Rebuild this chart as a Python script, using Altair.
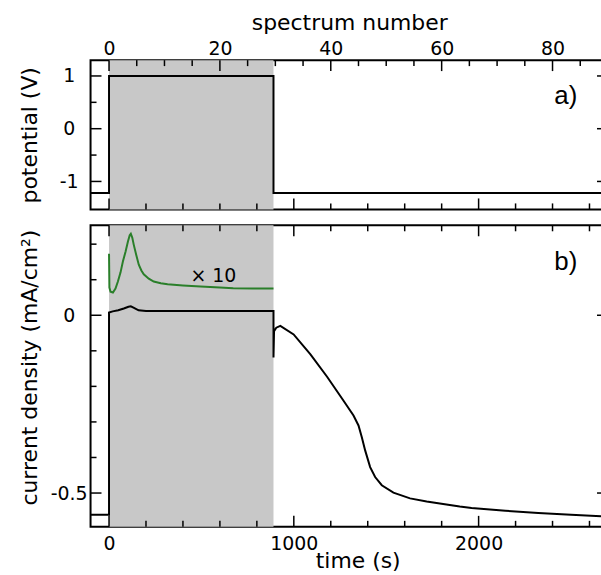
import altair as alt
import pandas as pd

# ---------------- data ----------------
pot_t = [-100, 0, 0, 890, 890, 2700]
pot_v = [-1.22, -1.22, 1.0, 1.0, -1.22, -1.22]

cur_t = [-100, 0, 0, 20, 50, 80, 105, 118, 135, 160, 200, 890, 890, 893, 905, 927,
         999, 1090, 1180, 1270, 1323, 1350, 1368, 1386, 1413, 1440, 1476, 1539,
         1629, 1719, 1808, 1898, 1962, 2145, 2323, 2500, 2700]
cur_v = [-0.561, -0.561, 0.008, 0.011, 0.014, 0.019, 0.024, 0.025, 0.021, 0.014, 0.012,
         0.012, -0.119, -0.045, -0.035, -0.030, -0.054, -0.110, -0.173, -0.241, -0.282,
         -0.310, -0.343, -0.380, -0.427, -0.455, -0.478, -0.499, -0.515, -0.524, -0.531,
         -0.538, -0.542, -0.550, -0.556, -0.561, -0.566]

x10_t = [0, 2, 8, 21, 35, 48, 62, 75, 90, 102, 112, 118, 126, 134, 147, 161, 175, 188,
         215, 242, 280, 317, 400, 495, 600, 672, 780, 890]
x10_v = [0.173, 0.078, 0.066, 0.064, 0.075, 0.095, 0.12, 0.151, 0.18, 0.207, 0.225,
         0.229, 0.218, 0.198, 0.17, 0.142, 0.126, 0.115, 0.103, 0.095, 0.09, 0.087,
         0.084, 0.081, 0.078, 0.076, 0.075, 0.075]

shade_t = [0, 890]
T_DOMAIN = [-100, 2700]
POT_DOMAIN = [-1.53, 1.30]
CUR_DOMAIN = [-0.595, 0.253]
SECONDS_PER_SPECTRUM = 30

time_major = [0, 1000, 2000]
time_minor = [200, 400, 600, 800, 1200, 1400, 1600, 1800, 2200, 2400, 2600]
spec_major = [0, 20, 40, 60, 80]
spec_minor = [5, 10, 15, 25, 30, 35, 45, 50, 55, 65, 70, 75, 85, 90]
pot_major = [-1, 0, 1]
pot_minor = [-0.5, 0.5]
cur_major = [-0.5, 0]
cur_minor = [-0.4, -0.3, -0.2, -0.1, 0.1, 0.2]

# ---------------- layout / style constants ----------------
W = 520
H_TOP = 150
H_BOT = 303
FONT = "DejaVu Sans"
LBL = 19
TTL = 22
GRAY = "#c8c8c8"
GREEN = "#2a7f2a"
MAJ = 11
MIN = 6
TICK_W = 1.5

pot_df = pd.DataFrame({"t": pot_t, "v": pot_v, "i": range(len(pot_t))})
cur_df = pd.DataFrame({"t": cur_t, "v": cur_v, "i": range(len(cur_t))})
x10_df = pd.DataFrame({"t": x10_t, "v": x10_v, "i": range(len(x10_t))})


def shade_df(dom):
    return pd.DataFrame({"t0": [shade_t[0]], "t1": [shade_t[1]], "y0": [dom[0]], "y1": [dom[1]]})


XS = alt.Scale(domain=T_DOMAIN, nice=False, zero=False)


def left_label_axis(values, title, title_y=None):
    kw = dict(orient="left", values=values, title=title, grid=False, domain=False,
              ticks=False, tickSize=0, labelPadding=22, labelAlign="center",
              labelBaseline="middle", labelFont=FONT, labelFontSize=LBL, labelColor="black",
              labelExpr="'' + datum.value", labelOverlap=False,
              titleFont=FONT, titleFontSize=TTL, titleFontWeight="normal",
              titleColor="black", titleBaseline="alphabetic", titleX=-54.5)
    if title_y is not None:
        kw["titleY"] = title_y
    return alt.Axis(**kw)


def panel(xaxis, yaxis, yscale, height, marks, xt_top, xt_bot, y_major, y_minor):
    """One framed panel: data layers carry the axes, tick layers carry none."""
    def X(field):
        return alt.X(field, scale=XS, axis=xaxis)

    def Y(field):
        return alt.Y(field, scale=yscale, axis=yaxis)

    main = alt.layer(*[m(X, Y) for m in marks])

    def xticks(values, edge, size):
        y2 = edge + size if edge == 0 else edge - size
        return alt.Chart(pd.DataFrame({"t": values})).mark_rule(
            color="black", strokeWidth=TICK_W).encode(
            x=alt.X("t:Q", scale=XS, axis=None), y=alt.value(edge), y2=alt.value(y2))

    def yticks(values, edge, size):
        x2 = edge + size if edge == 0 else edge - size
        return alt.Chart(pd.DataFrame({"v": values})).mark_rule(
            color="black", strokeWidth=TICK_W).encode(
            y=alt.Y("v:Q", scale=yscale, axis=None), x=alt.value(edge), x2=alt.value(x2))

    ticks = alt.layer(
        xticks(xt_top[0], 0, MAJ), xticks(xt_top[1], 0, MIN),
        xticks(xt_bot[0], height, MAJ), xticks(xt_bot[1], height, MIN),
        yticks(y_major, 0, MAJ), yticks(y_minor, 0, MIN),
        yticks(y_major, W, MAJ), yticks(y_minor, W, MIN),
    )
    return alt.layer(main, ticks).resolve_axis(
        x="independent", y="independent").properties(width=W, height=height)


def rect_layer(dom):
    return lambda X, Y: alt.Chart(shade_df(dom)).mark_rect(color=GRAY).encode(
        x=X("t0:Q"), x2="t1:Q", y=Y("y0:Q"), y2="y1:Q")


def line_layer(df, color):
    return lambda X, Y: alt.Chart(df).mark_line(color=color, strokeWidth=2, clip=True).encode(
        x=X("t:Q"), y=Y("v:Q"), order="i:Q")


def text_layer(t, v, s, font, size, baseline):
    return lambda X, Y: alt.Chart(pd.DataFrame({"t": [t], "v": [v], "s": [s]})).mark_text(
        font=font, fontSize=size, align="center", baseline=baseline, color="black"
    ).encode(x=X("t:Q"), y=Y("v:Q"), text="s:N")


# ---------------- top panel: potential ----------------
pys = alt.Scale(domain=POT_DOMAIN, nice=False, zero=False)
spec_lbl_axis = alt.Axis(orient="top", values=[s * SECONDS_PER_SPECTRUM for s in spec_major],
                         labelExpr=f"format(datum.value / {SECONDS_PER_SPECTRUM}, 'd')",
                         title="spectrum number", grid=False, domain=False, ticks=False,
                         tickSize=0, labelPadding=6, labelBaseline="alphabetic",
                         labelFont=FONT, labelFontSize=LBL, labelColor="black",
                         titleFont=FONT, titleFontSize=TTL, titleFontWeight="normal",
                         titleColor="black", titleBaseline="alphabetic", titleY=-31)

top = panel(
    spec_lbl_axis, left_label_axis(pot_major, "potential (V)"), pys, H_TOP,
    [rect_layer(POT_DOMAIN), line_layer(pot_df, "black"),
     text_layer(2472, 0.46, "a)", "Liberation Sans", 26, "alphabetic")],
    ([s * SECONDS_PER_SPECTRUM for s in spec_major],
     [s * SECONDS_PER_SPECTRUM for s in spec_minor]),
    (time_major, time_minor), pot_major, pot_minor,
)

# ---------------- bottom panel: current density ----------------
cys = alt.Scale(domain=CUR_DOMAIN, nice=False, zero=False)
time_lbl_axis = alt.Axis(orient="bottom", values=time_major, title="time (s)", grid=False,
                         domain=False, ticks=False, tickSize=0, labelPadding=8,
                         labelExpr="'' + datum.value",
                         labelBaseline="top", labelFont=FONT, labelFontSize=LBL,
                         labelColor="black", titleFont=FONT, titleFontSize=TTL,
                         titleFontWeight="normal", titleColor="black",
                         titleBaseline="alphabetic", titleY=40.5, titleX=268.5)

bottom = panel(
    time_lbl_axis, left_label_axis(cur_major, "current density (mA/cm²)", title_y=142.5),
    cys, H_BOT,
    [rect_layer(CUR_DOMAIN), line_layer(cur_df, "black"), line_layer(x10_df, GREEN),
     text_layer(565, 0.110, "× 10", FONT, LBL, "middle"),
     text_layer(2472, 0.126, "b)", "Liberation Sans", 26, "alphabetic")],
    (time_major, time_minor), (time_major, time_minor), cur_major, cur_minor,
)

chart = alt.vconcat(top, bottom, spacing=16, bounds="flush").properties(
    padding={"left": 17, "top": 9, "right": -9, "bottom": 3}, background="white"
).configure_view(stroke="black", strokeWidth=2)

chart.save("out.html", embed_options={"renderer": "svg", "actions": False})
